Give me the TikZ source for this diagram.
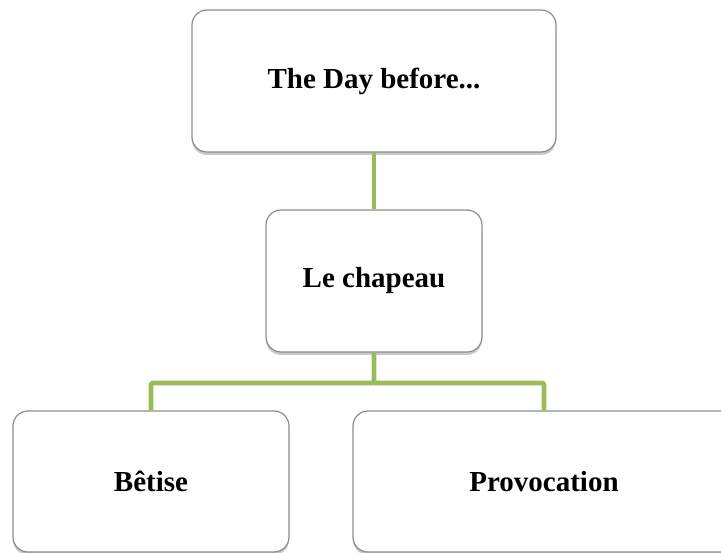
\documentclass[tikz,border=0pt]{standalone}
\usepackage{fontspec}
\setmainfont{Liberation Serif}
\usetikzlibrary{shadows}
\tikzset{
  card/.style={rectangle, rounded corners=15pt, draw=black!45, line width=1.2pt, fill=white,
    drop shadow={shadow xshift=0pt, shadow yshift=-3pt, opacity=0.35, fill=black!60},
    font=\fontsize{29}{35}\selectfont\bfseries, inner sep=0pt},
  link/.style={draw=green!45!olive!70!white, line width=4.6pt, rounded corners=2pt},
}
\definecolor{linkgreen}{HTML}{9BBB59}
\begin{document}
\begin{tikzpicture}[x=1pt,y=-1pt]
\useasboundingbox (0,0) rectangle (721,553);
\node[card, minimum width=364pt, minimum height=142pt] (top) at (374,81) {The Day before...};
\node[card, minimum width=216pt, minimum height=142pt] (mid) at (374,281) {Le chapeau};
\node[card, minimum width=276pt, minimum height=141pt] (bl) at (151,481.5) {Bêtise};
\node[card, minimum width=382pt, minimum height=141pt] (br) at (544,481.5) {Provocation};
\coordinate (bus) at (374,383);
\draw[link, draw=linkgreen] (top.south) -- (mid.north);
\draw[link, draw=linkgreen] (mid.south) -- (bus) -| (bl.north);
\draw[link, draw=linkgreen] (bus) -| (br.north);
\end{tikzpicture}
\end{document}
